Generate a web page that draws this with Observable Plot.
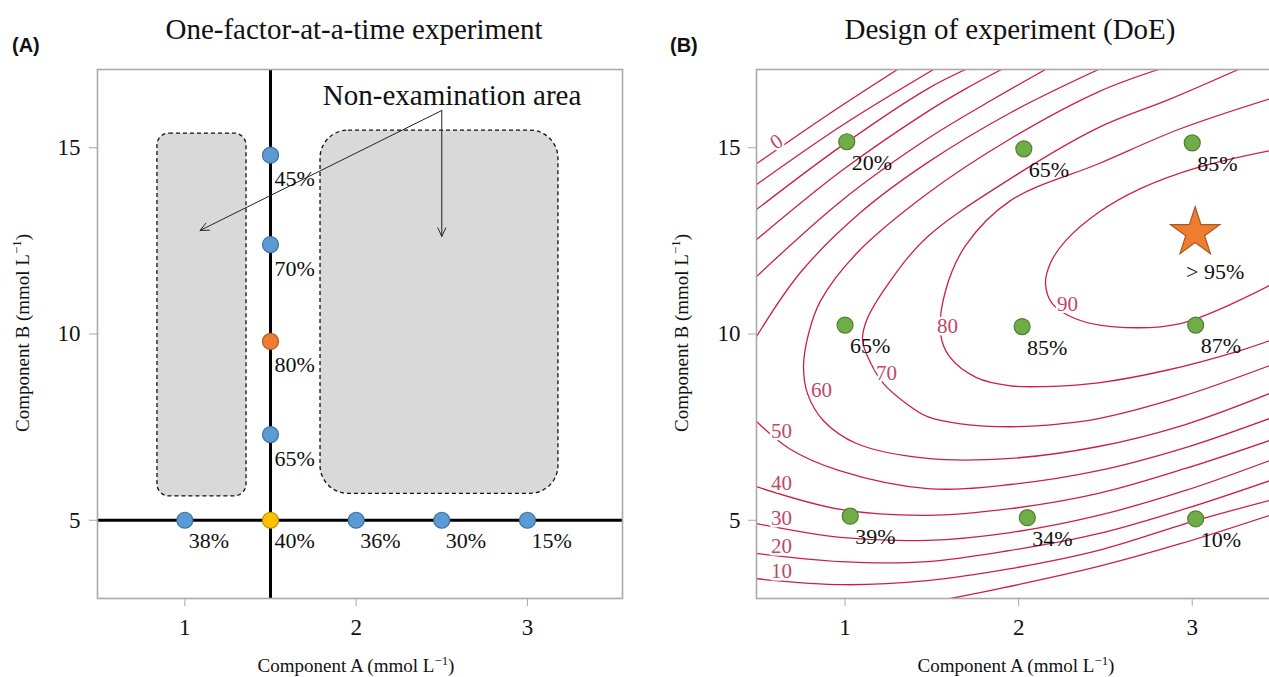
<!DOCTYPE html>
<html><head><meta charset="utf-8">
<script src="https://cdn.jsdelivr.net/npm/d3@7"></script>
<script src="https://cdn.jsdelivr.net/npm/@observablehq/plot@0.6"></script>
<style>
html,body{margin:0;padding:0;background:#fff;}
body{width:1269px;height:677px;overflow:hidden;position:relative;font-family:'Liberation Serif','Times New Roman',serif;color:#111;}
.abs{position:absolute;white-space:nowrap;line-height:1;}
.title{font-size:29px;transform:translateX(-50%);}
.tag{font-family:'Liberation Sans',Arial,sans-serif;font-weight:bold;font-size:20px;}
.axl{font-size:19px;transform:translateX(-50%);}
.ayl{font-size:19px;transform:translate(-50%,-50%) rotate(-90deg);}
sup{font-size:0.68em;vertical-align:0.55em;line-height:0;}
#pa,#pb{position:absolute;top:0;width:640px;height:677px;}
#pa svg,#pb svg{max-width:none !important;display:block;}
</style></head><body>
<div id="pa" style="left:0px"></div>
<div id="pb" style="left:660px"></div>
<div class="abs tag" style="left:12px;top:35px">(A)</div>
<div class="abs tag" style="left:670px;top:35px">(B)</div>
<div class="abs title" style="left:354px;top:15px">One-factor-at-a-time experiment</div>
<div class="abs title" style="left:1010px;top:15px">Design of experiment (DoE)</div>
<div class="abs axl" style="left:356px;top:656px">Component A (mmol L<sup>−1</sup>)</div>
<div class="abs axl" style="left:1016px;top:656px">Component A (mmol L<sup>−1</sup>)</div>
<div class="abs ayl" style="left:22px;top:333px">Component B (mmol L<sup>−1</sup>)</div>
<div class="abs ayl" style="left:681px;top:333px">Component B (mmol L<sup>−1</sup>)</div>
<script>
// ---------- shared axes ----------
const xTicks = [1, 2, 3];
const yTicks = [5, 10, 15];

// ---------- Panel A : one-factor-at-a-time ----------
const fixedA = 1.5;          // component A held constant while B varies
const fixedB = 5;            // component B held constant while A varies
const ofatA = [1, 1.5, 2, 2.5, 3];
const ofatAYield = ["38%", "40%", "36%", "30%", "15%"];
const ofatB = [14.8, 12.4, 9.8, 7.3];
const ofatBYield = ["45%", "70%", "80%", "65%"];
const bestYield = "80%";
// non-examined regions [A1, A2, B1, B2]
const zoneNarrow = [0.84, 1.36, 5.64, 15.38];
const zoneWide = [1.792, 3.181, 5.71, 15.46];
const noteText = "Non-examination area";
const noteAt = [2.56, 16.4];
const arrowFrom = [2.50, 16.0];
const arrowTo = [[1.089, 12.78], [2.50, 12.62]];

// ---------- Panel B : design of experiment ----------
const doeA = [1.01, 2.03, 3.00, 1.00, 2.02, 3.02, 1.03, 2.05, 3.02];
const doeB = [15.16, 14.97, 15.13, 10.24, 10.20, 10.24, 5.11, 5.07, 5.04];
const doeYield = ["20%", "65%", "85%", "65%", "85%", "87%", "39%", "34%", "10%"];
const optimum = [3.017, 12.72];
const optimumText = "> 95%";

// contour lines of the fitted response (traced), [A, B]
const c0a = [[0.49,14.57],[0.893,15.86],[1.302,17.1]];
const c0b = [[1.608,2.90],[1.896,3.17],[2.46,3.76],[2.932,4.37],[3.445,5.13]];
const c10a = [[0.49,14.01],[0.98,15.59],[1.51,17.1]];
const c10b = [[0.49,3.43],[0.991,3.27],[1.475,3.38],[1.953,3.70],[2.46,4.19],[3.019,4.99],[3.445,5.53]];
const c20a = [[0.49,13.34],[0.98,15.05],[1.475,16.58],[1.694,17.1]];
const c20b = [[0.49,4.11],[0.974,3.89],[1.475,3.89],[1.953,4.19],[2.46,4.64],[2.961,5.31],[3.445,6.06]];
const c30a = [[0.49,12.53],[0.98,14.38],[1.475,15.97],[1.694,16.58],[1.901,17.1]];
const c30b = [[0.49,4.91],[0.974,4.54],[1.475,4.46],[1.953,4.67],[2.46,5.13],[2.961,5.80],[3.445,6.60]];
const c40a = [[0.49,11.54],[0.98,13.58],[1.475,15.24],[1.838,16.26],[2.155,17.1]];
const c40b = [[0.49,5.90],[0.974,5.29],[1.475,5.13],[1.953,5.31],[2.46,5.72],[2.961,6.39],[3.445,7.14]];
const c50a = [[0.49,9.93],[0.743,11.65],[1.089,13.26],[1.475,14.6],[1.953,15.94],[2.46,17.1]];
const c50b = [[0.49,7.65],[0.68,6.92],[0.968,6.33],[1.475,5.85],[1.953,5.96],[2.46,6.33],[2.961,6.95],[3.445,7.73]];
const c60 = [[2.806,17.1],[2.46,16.50],[1.953,15.24],[1.475,13.77],[1.066,12.16],[0.859,10.89],[0.79,10.01],[0.761,9.12],[0.784,8.40],[0.876,7.67],[1.066,7.06],[1.475,6.66],[1.953,6.66],[2.46,6.98],[2.961,7.57],[3.445,8.40]];
const c70 = [[3.266,17.1],[2.875,16.31],[2.46,15.54],[1.953,14.17],[1.475,12.61],[1.262,11.43],[1.124,10.36],[1.101,9.82],[1.147,9.23],[1.222,8.67],[1.354,8.13],[1.475,7.78],[1.665,7.59],[1.953,7.51],[2.241,7.59],[2.46,7.73],[2.938,8.32],[3.445,9.15]];
const c80 = [[3.445,16.31],[2.932,15.51],[2.46,14.57],[1.953,13.58],[1.694,12.37],[1.579,11.16],[1.55,10.01],[1.602,9.39],[1.757,8.83],[1.953,8.61],[2.149,8.59],[2.46,8.69],[2.846,9.02],[3.272,9.55],[3.445,9.82]];
const c90 = [[3.445,14.92],[3.048,14.49],[2.702,13.90],[2.46,13.26],[2.27,12.50],[2.184,11.91],[2.155,11.35],[2.195,10.81],[2.328,10.41],[2.535,10.20],[2.932,10.28],[3.445,11.30]];
const contourLevels = ["0","0","10","10","20","20","30","30","40","40","50","50","60","70","80","90"];
const contourPaths = [c0a,c0b,c10a,c10b,c20a,c20b,c30a,c30b,c40a,c40b,c50a,c50b,c60,c70,c80,c90];
// contour label anchors
const contourLabelA = [0.634, 0.634, 0.634, 0.634, 0.634, 0.864, 1.239, 1.59, 2.282];
const contourLabelB = [3.62, 4.29, 5.05, 5.98, 7.38, 8.48, 8.94, 10.20, 10.81];
const contourLabelText = ["10","20","30","40","50","60","70","80","90"];
const zeroLabel = [0.605, 15.16];

// ---------- build tables ----------
const rowA = ofatA.map((a, i) => ({a, b: fixedB, label: ofatAYield[i], role: a === fixedA ? "start" : "trial"}));
const rowB = ofatB.map((b, i) => ({a: fixedA, b, label: ofatBYield[i], role: ofatBYield[i] === bestYield ? "best" : "trial"}));
const doe = doeA.map((a, i) => ({a, b: doeB[i], label: doeYield[i]}));
const contourTable = contourPaths.flatMap((p, k) => p.map(([a, b]) => ({a, b, id: k, level: contourLevels[k]})));
const contourLabels = contourLabelText.map((t, i) => ({a: contourLabelA[i], b: contourLabelB[i], t}));

const roleFill = {trial: "#5b9bd5", best: "#ed7d31", start: "#ffc000"};
const roleStroke = {trial: "#41719c", best: "#ae5a21", start: "#bf9000"};
const serif = "'Liberation Serif','Times New Roman',serif";
const frameGray = "#a9a9a9";

function axes(padY) {
  return [
    Plot.frame({stroke: frameGray, strokeWidth: 1.6}),
    Plot.axisX({ticks: xTicks, tickFormat: d => String(d), tickSize: 8, tickPadding: 12, stroke: frameGray, fill: "#111", label: null, fontSize: 23}),
    Plot.axisY({ticks: yTicks, tickFormat: d => String(d), tickSize: 8, tickPadding: padY, stroke: frameGray, fill: "#111", label: null, fontSize: 23})
  ];
}

const plotA = Plot.plot({
  width: 640, height: 677,
  marginLeft: 97, marginRight: 18, marginTop: 69, marginBottom: 79,
  x: {domain: [0.49, 3.555]},
  y: {domain: [2.9, 17.1]},
  color: {type: "identity"},
  style: {fontFamily: serif, fontSize: "23px", background: "transparent", overflow: "visible", color: "#111"},
  marks: [
    Plot.rect([zoneNarrow], {x1: d => d[0], x2: d => d[1], y1: d => d[2], y2: d => d[3], fill: "#d9d9d9", stroke: "#111", strokeWidth: 1.3, strokeDasharray: "4,3", rx: 12}),
    Plot.rect([zoneWide], {x1: d => d[0], x2: d => d[1], y1: d => d[2], y2: d => d[3], fill: "#d9d9d9", stroke: "#111", strokeWidth: 1.3, strokeDasharray: "4,3", rx: 28}),
    Plot.ruleX([fixedA], {stroke: "#000", strokeWidth: 3}),
    Plot.ruleY([fixedB], {stroke: "#000", strokeWidth: 3}),
    Plot.arrow(arrowTo, {x1: () => arrowFrom[0], y1: () => arrowFrom[1], x2: d => d[0], y2: d => d[1], stroke: "#222", strokeWidth: 1, headLength: 14, headAngle: 50}),
    Plot.text([noteText], {x: () => noteAt[0], y: () => noteAt[1], text: d => d, fontSize: 29, fill: "#111"}),
    Plot.dot(rowA.concat(rowB), {x: "a", y: "b", r: 8, fill: d => roleFill[d.role], stroke: d => roleStroke[d.role], strokeWidth: 1.2}),
    Plot.text(rowB, {x: "a", y: "b", text: "label", textAnchor: "start", dx: 4, dy: 24, fontSize: 22, fill: "#111"}),
    Plot.text(rowA, {x: "a", y: "b", text: "label", textAnchor: "start", dx: 4, dy: 21, fontSize: 22, fill: "#111"}),
    ...axes(9)
  ]
});
document.getElementById("pa").appendChild(plotA);

const lineRed = "#cc1f48";
const labelRed = "#c0476a";
const plotB = Plot.plot({
  width: 640, height: 677,
  marginLeft: 96, marginRight: 18, marginTop: 69, marginBottom: 79,
  x: {domain: [0.49, 3.52]},
  y: {domain: [2.9, 17.1]},
  color: {type: "identity"},
  style: {fontFamily: serif, fontSize: "23px", background: "transparent", overflow: "visible", color: "#111"},
  marks: [
    Plot.line(contourTable, {x: "a", y: "b", z: "id", curve: "catmull-rom", stroke: lineRed, strokeWidth: 1.3, clip: true}),
    Plot.text(contourLabels, {x: "a", y: "b", text: "t", fill: labelRed, fontSize: 21, stroke: "white", strokeWidth: 5}),
    Plot.text(["0"], {x: () => zeroLabel[0], y: () => zeroLabel[1], text: d => d, fill: labelRed, fontSize: 21, rotate: -33, stroke: "white", strokeWidth: 4}),
    Plot.dot(doe, {x: "a", y: "b", r: 8, fill: "#70ad47", stroke: "#4e7f31", strokeWidth: 1.2}),
    Plot.text(doe, {x: "a", y: "b", text: "label", textAnchor: "start", dx: 5, dy: 21, fontSize: 22, fill: "#111"}),
    Plot.dot([optimum], {x: d => d[0], y: d => d[1], symbol: "star", r: 15.5, fill: "#ed7d31", stroke: "#a85a20", strokeWidth: 1.2}),
    Plot.text([optimumText], {x: () => optimum[0], y: () => optimum[1], text: d => d, dx: 20, dy: 39, fontSize: 22, fill: "#111"}),
    ...axes(8)
  ]
});
document.getElementById("pb").appendChild(plotB);
</script>
</body></html>
